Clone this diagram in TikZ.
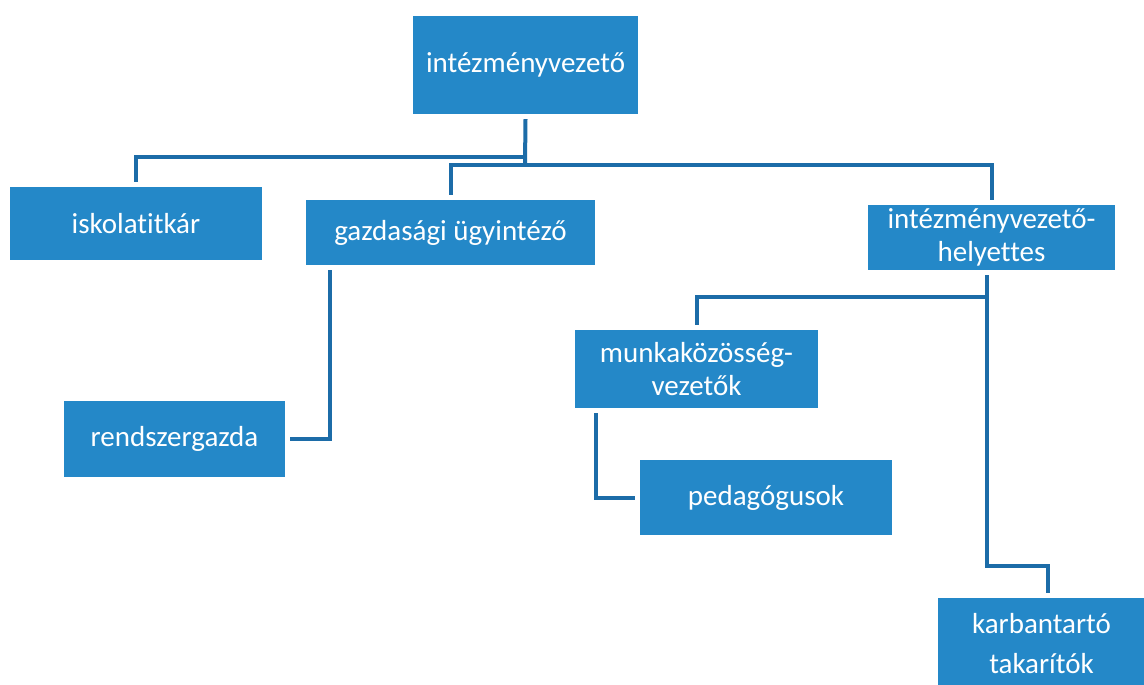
\documentclass[tikz,border=0pt]{standalone}
\usepackage{fontspec}
\setmainfont{Carlito}[Ligatures=NoCommon]
\definecolor{boxblue}{RGB}{36,136,200}
\definecolor{lineblue}{RGB}{28,108,168}
\tikzset{
  orgbox/.style={fill=boxblue, text=white, inner sep=0pt, align=center,
    font=\fontsize{29}{33}\selectfont},
  conn/.style={draw=lineblue, line width=4pt, line join=miter}
}
\begin{document}
\begin{tikzpicture}[x=1pt,y=-1pt]
\fill[white] (0,0) rectangle (1144,685);
\useasboundingbox (0,0) rectangle (1144,685);

\node[orgbox, minimum width=225pt, minimum height=98pt] (top) at (525.5,65) {intézményvezető};
\node[orgbox, minimum width=252pt, minimum height=73pt] (isk) at (136,223.5) {iskolatitkár};
\node[orgbox, minimum width=289pt, minimum height=65pt] (gazd) at (450.5,232.5) {gazdasági ügyintéző};
\node[orgbox, minimum width=247pt, minimum height=65pt] (hely) at (991.5,237.5) {intézményvezető-\\helyettes};
\node[orgbox, minimum width=221pt, minimum height=76pt] (rendsz) at (174.5,439) {rendszergazda};
\node[orgbox, minimum width=243pt, minimum height=78pt] (munka) at (696.5,369) {munkaközösség-\\vezetők};
\node[orgbox, minimum width=252pt, minimum height=75pt] (pedag) at (766,497.5) {pedagógusok};
\node[orgbox, minimum width=207pt, minimum height=92pt, text width=207pt, font=\fontsize{29}{40}\selectfont] (karb) at (1041.5,644) {karbantartó\\takarítók};

\coordinate (j1) at (525,157);
\coordinate (j2) at (525,165);
\coordinate (m) at (986.5,297);
\coordinate (k) at (986.5,566);

\draw[conn] ([yshift=-5pt]top.south) -- (j2);
\draw[conn] (j1) -| ([yshift=5pt]isk.north);
\draw[conn] (j2) -| ([yshift=5pt]gazd.north);
\draw[conn] (j2) -| ([yshift=5pt]hely.north);
\draw[conn] ([xshift=24pt,yshift=-5pt]gazd.south west) |- ([xshift=5pt]rendsz.east);
\draw[conn] ([xshift=-5pt,yshift=-5pt]hely.south) -- (k) -| ([xshift=110pt,yshift=5pt]karb.north west);
\draw[conn] (m) -| ([yshift=5pt]munka.north);
\draw[conn] ([xshift=21pt,yshift=-5pt]munka.south west) |- ([xshift=-5pt]pedag.west);
\end{tikzpicture}
\end{document}
